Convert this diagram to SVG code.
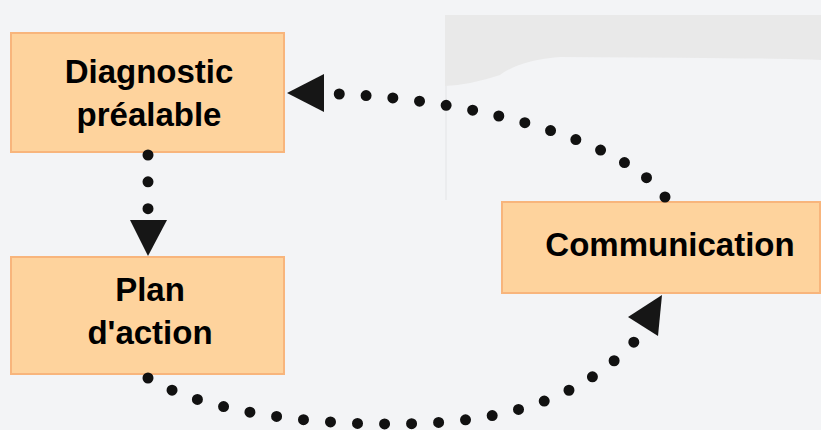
<svg xmlns="http://www.w3.org/2000/svg" width="821" height="430" viewBox="0 0 821 430">
  <style>
    .box { fill: #fed39d; stroke: #f8b57c; stroke-width: 2; }
    .lbl { font-family: "Liberation Sans", Arial, sans-serif; font-weight: bold; font-size: 33px; fill: #000; text-anchor: middle; }
    .dots { fill: none; stroke: #111; stroke-width: 11; stroke-linecap: round; stroke-dasharray: 0 1; }
    .head { fill: #161616; }
  </style>
  <rect width="821" height="430" fill="#f3f4f6"/>
  <path d="M445 15 H821 V60 Q780 58 560 57 Q520 60 500 75 Q470 85 445 86 Z" fill="#e9e9e9"/>
  <line x1="446" y1="86" x2="446" y2="200" stroke="#ebecee" stroke-width="2"/>

  <g id="node-diagnostic">
    <rect class="box" x="11" y="33" width="273" height="119"/>
    <text class="lbl" x="149" y="83">Diagnostic</text>
    <text class="lbl" x="149" y="126">préalable</text>
  </g>
  <g id="node-plan">
    <rect class="box" x="11" y="257" width="273" height="117"/>
    <text class="lbl" x="150" y="301">Plan</text>
    <text class="lbl" x="150" y="344">d'action</text>
  </g>
  <g id="node-communication">
    <rect class="box" x="502" y="202" width="318" height="91"/>
    <text class="lbl" x="670" y="256">Communication</text>
  </g>

  <g id="connectors">
    <path class="dots" pathLength="2.01" d="M148 155 V209"/>
    <polygon class="head" points="130,220 167,220 148,256"/>
    <path class="dots" pathLength="13.01" d="M665 197 C625 140 470 99 339 94"/>
    <polygon class="head" points="287,93 324,74 324,112"/>
    <path class="dots" pathLength="19.01" d="M148 378 C200 410 300 424 390 424 C480 424 570 410 634 342"/>
    <polygon class="head" points="662,295 628,317 658,336"/>
  </g>
</svg>
